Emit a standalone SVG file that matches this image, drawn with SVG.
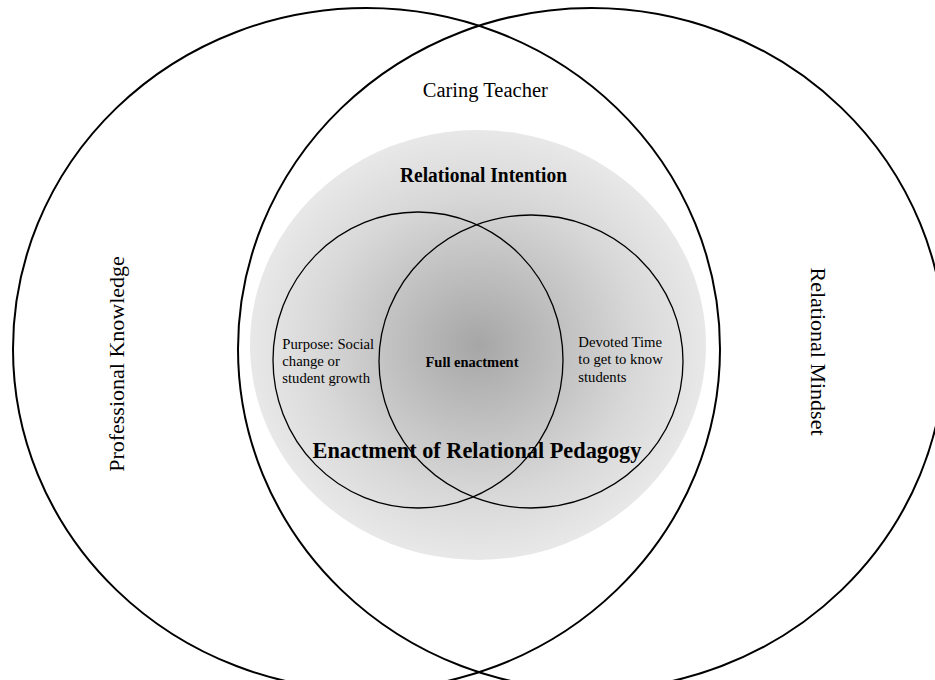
<svg xmlns="http://www.w3.org/2000/svg" width="935" height="680" viewBox="0 0 935 680">
  <style>
    .big { fill: none; stroke: #000; stroke-width: 2; }
    .inner { fill: none; stroke: #000; stroke-width: 1.3; }
    .t { font-family: "Liberation Serif", "Times New Roman", serif; fill: #000; }
    .b { font-weight: bold; }
  </style>
  <defs>
    <radialGradient id="g" cx="478" cy="345" r="228" gradientUnits="userSpaceOnUse" gradientTransform="translate(478 345) scale(1 0.943) translate(-478 -345)">
      <stop offset="0" stop-color="#a6a6a6"/>
      <stop offset="0.7" stop-color="#d8d8d8"/>
      <stop offset="1" stop-color="#e8e8e8"/>
    </radialGradient>
  </defs>
  <rect width="935" height="680" fill="#fff"/>

  <g id="relational-intention">
    <ellipse cx="478" cy="345" rx="228" ry="215" fill="url(#g)"/>
    <text class="t b" x="483.5" y="181.7" font-size="20" text-anchor="middle" textLength="167" lengthAdjust="spacingAndGlyphs">Relational Intention</text>
  </g>

  <g id="professional-knowledge">
    <ellipse class="big" cx="366.5" cy="349" rx="353.5" ry="341"/>
    <text class="t" x="0" y="0" font-size="22" text-anchor="middle" transform="translate(124 364) rotate(-90)">Professional Knowledge</text>
  </g>

  <g id="relational-mindset">
    <ellipse class="big" cx="591.5" cy="349" rx="353.5" ry="341"/>
    <text class="t" x="0" y="0" font-size="22" text-anchor="middle" transform="translate(811 351.5) rotate(90)">Relational Mindset</text>
  </g>

  <g id="caring-teacher">
    <text class="t" x="485.3" y="96.7" font-size="20.5" text-anchor="middle">Caring Teacher</text>
  </g>

  <g id="purpose">
    <ellipse class="inner" cx="418" cy="360" rx="145" ry="148"/>
    <text class="t" font-size="14.7">
      <tspan x="282.3" y="349">Purpose: Social</tspan>
      <tspan x="282.3" y="366">change or</tspan>
      <tspan x="282.3" y="383">student growth</tspan>
    </text>
  </g>

  <g id="devoted-time">
    <ellipse class="inner" cx="531" cy="361.5" rx="152" ry="146.5"/>
    <text class="t" font-size="14.7">
      <tspan x="578.3" y="346.7">Devoted Time</tspan>
      <tspan x="578.3" y="364">to get to know</tspan>
      <tspan x="578.3" y="381.5">students</tspan>
    </text>
  </g>

  <g id="full-enactment">
    <text class="t b" x="472" y="366.7" font-size="14.5" text-anchor="middle">Full enactment</text>
  </g>

  <g id="enactment">
    <text class="t b" x="477" y="458.3" font-size="22.3" text-anchor="middle">Enactment of Relational Pedagogy</text>
  </g>

  <g id="connectors"></g>
</svg>
